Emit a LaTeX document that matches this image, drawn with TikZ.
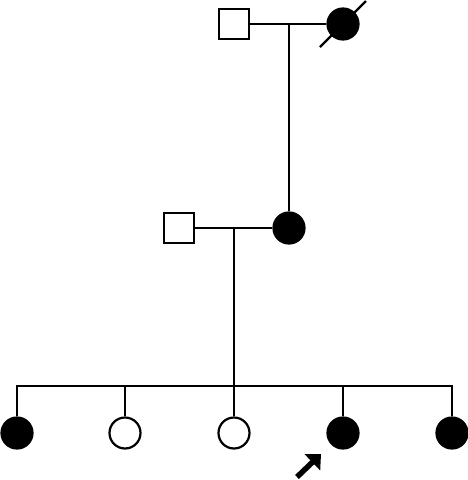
\documentclass[tikz,border=0pt]{standalone}
\usepackage{tikz}
\usetikzlibrary{arrows.meta}
\definecolor{affected}{RGB}{0,0,0}
\definecolor{unaffected}{RGB}{255,255,255}

\begin{document}
\begin{tikzpicture}[x=1pt,y=-1pt,line width=2.2pt,
  male/.style={draw,rectangle,minimum size=30pt,inner sep=0pt,fill=unaffected},
  female/.style={draw,circle,minimum size=31pt,inner sep=0pt}]
  \useasboundingbox (0,0) rectangle (468,480);
  \node[male] (gf) at (234,24) {};
  \node[female,fill=affected] (gm) at (343,24) {};
  \draw (gf) -- (gm);
  \draw ([shift={(-23,23)}]gm.center) -- ([shift={(23,-23)}]gm.center);
  \coordinate (m1) at (289,24);
  \node[male] (fa) at (179,228) {};
  \node[female,fill=affected] (mo) at (289,228) {};
  \draw (m1) -- (mo);
  \draw (fa) -- (mo);
  \coordinate (m2) at (234,228);
  \coordinate (sib) at (234,386);
  \draw (m2) -- (sib);
  \foreach \i/\x/\c in {
    1/17/affected, 2/125/unaffected, 3/234/unaffected,
    4/343/affected, 5/452/affected}{
    \node[female,fill=\c] (c\i) at (\x,433) {};
  }
  \foreach \i in {2,3,4}{
    \draw (c\i.north) -- (c\i|-sib);
  }
  \draw (c1.north) -- (c1|-sib) -- (c5|-sib) -- (c5.north);
  \coordinate (pb) at (297,477);
  \coordinate (pe) at (321,454);
  \draw[-{Triangle[length=12pt,width=22pt]},line width=5.5pt] (pb) -- (pe);
\end{tikzpicture}
\end{document}
